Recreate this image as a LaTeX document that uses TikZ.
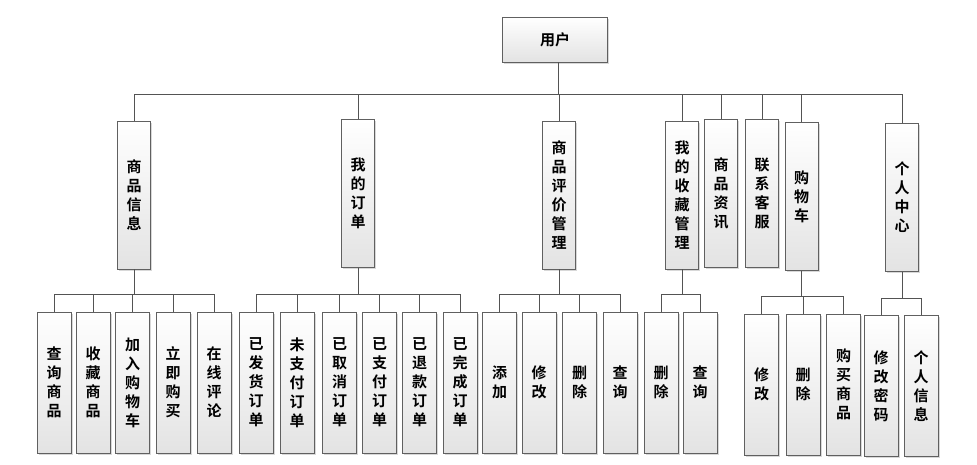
\documentclass[tikz,border=0pt]{standalone}
\usepackage{fontspec}
\newfontfamily\cjk{Noto Sans CJK SC Bold}
\usetikzlibrary{shadows}
\tikzset{
  box/.style={draw=gray!75!black, line width=0.7pt, top color=white, bottom color=gray!22,
    drop shadow={shadow xshift=1.6pt, shadow yshift=-1.6pt, fill=gray!60, opacity=0.5},
    inner sep=0pt, align=center, font=\cjk\fontsize{15}{19}\selectfont},
  vbox/.style={box, minimum width=33pt, minimum height=148pt},
  leaf/.style={box, minimum width=34pt, minimum height=141pt},
  link/.style={draw=gray!65!black, line width=0.8pt}
}
\begin{document}
\begin{tikzpicture}[x=1pt,y=-1pt]
\useasboundingbox (0,0) rectangle (977,465);
% root
\node[box, minimum width=105pt, minimum height=45pt] (root) at (555,39.5) {用户};
% level 2
\node[vbox] (n1) at (134,195) {商\\品\\信\\息};
\node[vbox] (n2) at (358,193.5) {我\\的\\订\\单};
\node[vbox] (n3) at (559,195) {商\\品\\评\\价\\管\\理};
\node[vbox] (n4) at (682,195) {我\\的\\收\\藏\\管\\理};
\node[vbox] (n5) at (721,193.5) {商\\品\\资\\讯};
\node[vbox] (n6) at (762,193.5) {联\\系\\客\\服};
\node[vbox] (n7) at (801.5,196.5) {购\\物\\车};
\node[vbox] (n8) at (902,197.5) {个\\人\\中\\心};
% leaves
\node[leaf] (a1) at (54,382.5) {查\\询\\商\\品};
\node[leaf] (a2) at (93,382.5) {收\\藏\\商\\品};
\node[leaf] (a3) at (132.5,382.5) {加\\入\\购\\物\\车};
\node[leaf] (a4) at (173,382.5) {立\\即\\购\\买};
\node[leaf] (a5) at (214,382.5) {在\\线\\评\\论};
\node[leaf] (b1) at (256,382.5) {已\\发\\货\\订\\单};
\node[leaf] (b2) at (297,382.5) {未\\支\\付\\订\\单};
\node[leaf] (b3) at (339.5,382.5) {已\\取\\消\\订\\单};
\node[leaf] (b4) at (379.5,382.5) {已\\支\\付\\订\\单};
\node[leaf] (b5) at (419.5,382.5) {已\\退\\款\\订\\单};
\node[leaf] (b6) at (460,382.5) {已\\完\\成\\订\\单};
\node[leaf] (c1) at (499.5,382.5) {添\\加};
\node[leaf] (c2) at (539,382.5) {修\\改};
\node[leaf] (c3) at (579.5,382.5) {删\\除};
\node[leaf] (c4) at (620,382.5) {查\\询};
\node[leaf] (d1) at (661,382.5) {删\\除};
\node[leaf] (d2) at (700,382.5) {查\\询};
\node[leaf] (e1) at (761.5,384.5) {修\\改};
\node[leaf] (e2) at (803,384.5) {删\\除};
\node[leaf] (e3) at (843.5,384.5) {购\\买\\商\\品};
\node[leaf] (f1) at (881,386) {修\\改\\密\\码};
\node[leaf] (f2) at (921,386) {个\\人\\信\\息};
% bar coordinates
\coordinate (r0) at (558,94);
\coordinate (g1) at (134,294);
\coordinate (g2) at (358,294);
\coordinate (g3) at (559,294);
\coordinate (g4) at (682,294);
\coordinate (g7) at (801.5,296);
\coordinate (g8) at (902,298);
% connectors
\draw[link] (r0 |- root.south) -- (r0);
\foreach \n in {n1,n2,n3,n4,n5,n6,n7,n8} \draw[link] (r0) -| (\n.north);
\draw[link] (n1.south) -- (g1);
\foreach \n in {a1,a2,a3,a4,a5} \draw[link] (g1) -| (\n.north);
\draw[link] (n2.south) -- (g2);
\foreach \n in {b1,b2,b3,b4,b5,b6} \draw[link] (g2) -| (\n.north);
\draw[link] (n3.south) -- (g3);
\foreach \n in {c1,c2,c3,c4} \draw[link] (g3) -| (\n.north);
\draw[link] (n4.south) -- (g4);
\foreach \n in {d1,d2} \draw[link] (g4) -| (\n.north);
\draw[link] (n7.south) -- (g7);
\foreach \n in {e1,e2,e3} \draw[link] (g7) -| (\n.north);
\draw[link] (n8.south) -- (g8);
\foreach \n in {f1,f2} \draw[link] (g8) -| (\n.north);
\end{tikzpicture}
\end{document}
